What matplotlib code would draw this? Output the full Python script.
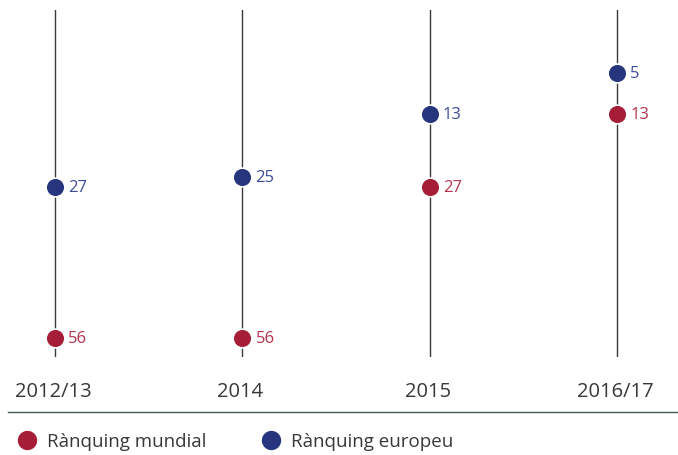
import matplotlib
matplotlib.use('Agg')
import matplotlib.pyplot as plt
from matplotlib.lines import Line2D

plt.rcParams['font.family'] = ['Open Sans', 'DejaVu Sans']

periods = ['2012/13', '2014', '2015', '2016/17']
world_rank = [56, 56, 27, 13]
europe_rank = [27, 25, 13, 5]

red = '#a51d36'
blue = '#27357f'
red_txt = '#b5334b'
blue_txt = '#3d4b98'
grey_txt = '#383838'

fig = plt.figure(figsize=(6.78, 4.56), dpi=100)
ax = fig.add_axes([0, 98/456, 1, 347/456])
ax.set_xlim(-0.2937, 3.326)
ax.set_ylim(59.7, -7.08)
ax.axis('off')

xs = list(range(len(periods)))
for x in xs:
    ax.axvline(x, color='#3a3a3a', lw=1.0, zorder=1)

ax.plot(xs, world_rank, 'o', color=red, ms=13.5, mec='white', mew=1.2,
        zorder=3, label='Rànquing mundial')
ax.plot(xs, europe_rank, 'o', color=blue, ms=13.5, mec='white', mew=1.2,
        zorder=3, label='Rànquing europeu')

for x, w, e in zip(xs, world_rank, europe_rank):
    ax.annotate(str(w), (x, w), xytext=(9.5, 0), textcoords='offset points',
                ha='left', va='center', fontsize=12, color=red_txt)
    ax.annotate(str(e), (x, e), xytext=(9.5, 0), textcoords='offset points',
                ha='left', va='center', fontsize=12, color=blue_txt)

trans = ax.get_xaxis_transform()
for x, p in zip(xs, periods):
    ax.text(x - 0.01, -39/347, p, transform=trans, ha='center', va='baseline',
            fontsize=14.5, color=grey_txt)

# separator above the legend
fig.add_artist(Line2D([8/678, 1], [1 - 413/456, 1 - 413/456],
                      color='#3f5b58', lw=1.0))

leg = fig.legend(loc='center left', bbox_to_anchor=(17.5/678, 1 - 442.5/456),
                 ncol=2, frameon=False, fontsize=13.5, handlelength=1.0,
                 handletextpad=0.57, columnspacing=2.95, borderpad=0,
                 borderaxespad=0, markerscale=1.12)
for t in leg.get_texts():
    t.set_color(grey_txt)

fig.savefig('out.png', dpi=100)
